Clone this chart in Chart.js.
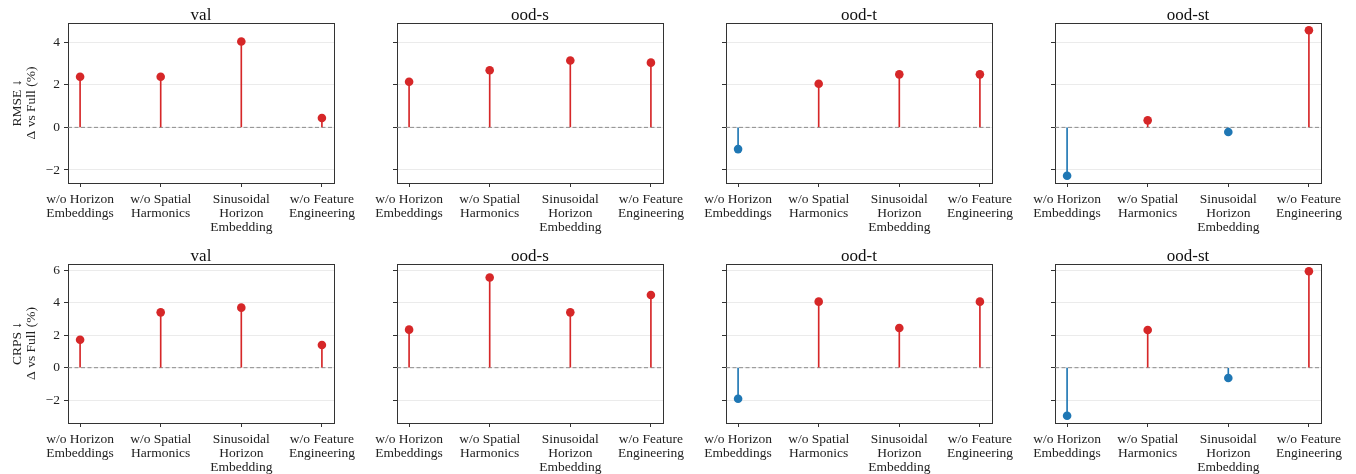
<!DOCTYPE html>
<html>
<head>
<meta charset="utf-8">
<script src="https://cdn.jsdelivr.net/npm/chart.js@4.4.1/dist/chart.umd.min.js"></script>
<style>
html, body { margin: 0; padding: 0; background: #fff; overflow: hidden; }
#wrap { position: relative; width: 1356px; height: 474px; overflow: hidden; }
#wrap canvas { position: absolute; }
</style>
</head>
<body>
<div id="wrap"></div>
<script>
// ablation variants (x categories)
var variants = [
    ["w/o Horizon", "Embeddings"],
    ["w/o Spatial", "Harmonics"],
    ["Sinusoidal", "Horizon", "Embedding"],
    ["w/o Feature", "Engineering"]
];
var splits = ["val", "ood-s", "ood-t", "ood-st"];

// Δ vs Full (%), RMSE row
var rmseVal   = [2.38, 2.38, 4.03, 0.44];
var rmseOodS  = [2.14, 2.68, 3.14, 3.04];
var rmseOodT  = [-1.02, 2.05, 2.49, 2.49];
var rmseOodSt = [-2.27, 0.33, -0.22, 4.56];

// Δ vs Full (%), CRPS row
var crpsVal   = [1.73, 3.42, 3.71, 1.40];
var crpsOodS  = [2.35, 5.57, 3.42, 4.49];
var crpsOodT  = [-1.92, 4.08, 2.45, 4.08];
var crpsOodSt = [-2.97, 2.33, -0.64, 5.96];

var rmseTicks = [-2, 0, 2, 4];
var crpsTicks = [-2, 0, 2, 4, 6];
var rmseLabel = ["RMSE \u2193", "\u0394 vs Full (%)"];
var crpsLabel = ["CRPS \u2193", "\u0394 vs Full (%)"];

var FONT = "'Liberation Serif', 'DejaVu Serif', serif";
var RED = '#d62728';
var BLUE = '#1f77b4';
var FRAME = '#333333';

// layout (pixels)
var AXIS_W = 68, PLOT_W = 266, PAD_R = 40, TITLE_H = 23;
var plotLeft = [68, 397, 726, 1055];
var rowTop = [0, 241];
var rowH = [240, 233];
var plotH = [160, 159];

function yLimits(rows) {
    var all = [].concat.apply([], rows);
    var lo = Math.min.apply(null, all), hi = Math.max.apply(null, all);
    var m = (hi - lo) * 0.05;
    return [lo - m, hi + m];
}

function fmt(v) {
    return v < 0 ? '\u2212' + Math.abs(v) : String(v);
}

function makePanel(row, col, values, yLabel, yTicks, lims) {
    var cv = document.createElement('canvas');
    cv.width = AXIS_W + PLOT_W + PAD_R;
    cv.height = rowH[row];
    cv.style.left = (plotLeft[col] - AXIS_W) + 'px';
    cv.style.top = rowTop[row] + 'px';
    document.getElementById('wrap').appendChild(cv);

    var pts = values.map(function (v, i) { return {x: i, y: v}; });
    var signColor = function (c) { return c.raw && c.raw.y < 0 ? BLUE : RED; };

    return new Chart(cv, {
        type: 'bar',
        data: {
            datasets: [
                {
                    type: 'scatter',
                    data: pts,
                    pointRadius: 4.3,
                    pointBorderWidth: 0,
                    pointBackgroundColor: signColor,
                    order: 0
                },
                {
                    type: 'bar',
                    data: pts,
                    barThickness: 1,
                    backgroundColor: signColor,
                    order: 1
                },
                {
                    type: 'line',
                    data: [{x: -0.15, y: 0}, {x: 3.15, y: 0}],
                    borderColor: '#8c8c8c',
                    borderWidth: 1,
                    borderDash: [4, 2.5],
                    pointRadius: 0,
                    order: 2
                }
            ]
        },
        options: {
            responsive: false,
            animation: false,
            layout: { padding: { left: 0, right: PAD_R, top: 0, bottom: 0 } },
            plugins: {
                legend: { display: false },
                tooltip: { enabled: false },
                title: {
                    display: true,
                    text: splits[col],
                    fullSize: false,
                    color: '#111',
                    font: { family: FONT, size: 17, weight: 'normal', lineHeight: '15px' },
                    padding: { top: 8, bottom: 0 }
                }
            },
            scales: {
                x: {
                    type: 'linear',
                    min: -0.15,
                    max: 3.15,
                    offset: false,
                    afterBuildTicks: function (s) {
                        s.ticks = variants.map(function (m, i) { return {value: i}; });
                    },
                    ticks: {
                        autoSkip: false,
                        maxRotation: 0,
                        minRotation: 0,
                        padding: 6,
                        color: '#222',
                        font: { family: FONT, size: 13.5, lineHeight: 1.02 },
                        callback: function (v) { return variants[v]; }
                    },
                    grid: { drawOnChartArea: false, offset: false, tickLength: 4, tickColor: FRAME },
                    border: { color: FRAME, width: 1 },
                    afterFit: function (s) { s.height = rowH[row] - TITLE_H - plotH[row]; }
                },
                y: {
                    min: lims[0],
                    max: lims[1],
                    afterBuildTicks: function (s) {
                        s.ticks = yTicks.map(function (v) { return {value: v}; });
                    },
                    ticks: {
                        padding: 4,
                        color: '#222',
                        font: { family: FONT, size: 13.5 },
                        callback: function (v) { return col === 0 ? fmt(v) : ''; }
                    },
                    grid: { color: '#ebebeb', lineWidth: 1, tickLength: 4, tickColor: FRAME },
                    border: { color: FRAME, width: 1 },
                    title: {
                        display: col === 0,
                        text: yLabel,
                        color: '#222',
                        font: { family: FONT, size: 13.5, lineHeight: 1.04 },
                        padding: { top: 10, bottom: 0 }
                    },
                    afterFit: function (s) { s.width = AXIS_W; }
                },
                xTop: {
                    type: 'linear',
                    position: 'top',
                    min: 0, max: 1,
                    ticks: { display: false },
                    grid: { display: false, drawTicks: false },
                    border: { display: true, color: FRAME, width: 1 },
                    afterFit: function (s) { s.height = 0; }
                },
                yRight: {
                    type: 'linear',
                    position: 'right',
                    min: 0, max: 1,
                    ticks: { display: false },
                    grid: { display: false, drawTicks: false },
                    border: { display: true, color: FRAME, width: 1 },
                    afterFit: function (s) { s.width = 0; }
                }
            }
        }
    });
}

var rmseRows = [rmseVal, rmseOodS, rmseOodT, rmseOodSt];
var crpsRows = [crpsVal, crpsOodS, crpsOodT, crpsOodSt];
var rmseLims = yLimits(rmseRows);
var crpsLims = yLimits(crpsRows);

rmseRows.forEach(function (vals, c) { makePanel(0, c, vals, rmseLabel, rmseTicks, rmseLims); });
crpsRows.forEach(function (vals, c) { makePanel(1, c, vals, crpsLabel, crpsTicks, crpsLims); });
</script>
</body>
</html>
